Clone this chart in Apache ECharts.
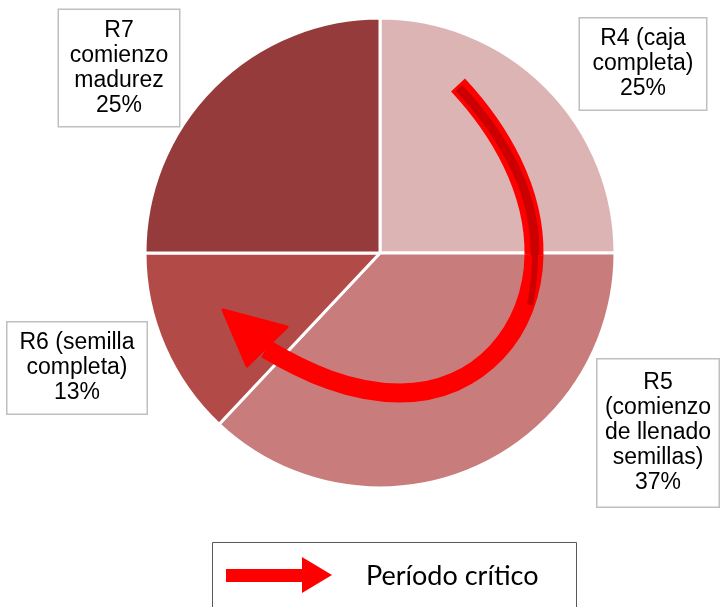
<!DOCTYPE html>
<html>
<head>
<meta charset="utf-8">
<script src="https://cdn.jsdelivr.net/npm/echarts@6/dist/echarts.min.js"></script>
<style>
  html, body { margin: 0; padding: 0; background: #fff; }
  #chart { width: 720px; height: 607px; }
</style>
</head>
<body>
<div id="chart"></div>
<script>
// etapas (en el orden del reloj, empezando arriba)
var etapas = ['R4 (caja\ncompleta)', 'R5\n(comienzo\nde llenado\nsemillas)', 'R6 (semilla\ncompleta)', 'R7\ncomienzo\nmadurez'];
var valores = [25, 37, 13, 25];
var colores = ['#DDB4B4', '#C87C7B', '#B24A48', '#953B3B'];
var leyenda = 'Período crítico';

// cajas de las etiquetas: centro x, centro y, ancho
var cajas = [
  [643, 64, 126],
  [658, 433, 121],
  [77, 368, 139],
  [119, 68, 120]
];

var chart = echarts.init(document.getElementById('chart'), null, { renderer: 'canvas' });

var datos = etapas.map(function (n, i) {
  return {
    name: n,
    value: valores[i],
    itemStyle: { color: colores[i] },
    label: { width: cajas[i][2], padding: i === 1 ? [11, 0] : [8, 0] }
  };
});

// tramos de la flecha curva
function curva(p, color, ancho, z) {
  return {
    type: 'bezierCurve', z: z,
    shape: { x1: p[0], y1: p[1], cpx1: p[2], cpy1: p[3], cpx2: p[4], cpy2: p[5], x2: p[6], y2: p[7] },
    style: { fill: null, stroke: color, lineWidth: ancho, lineCap: 'butt' }
  };
}

var option = {
  backgroundColor: '#fff',
  animation: false,
  series: [{
    type: 'pie',
    center: [380, 253],
    radius: 235,
    startAngle: 90,
    clockwise: true,
    percentPrecision: 0,
    silent: true,
    itemStyle: { borderColor: '#fff', borderWidth: 3 },
    label: {
      show: true,
      position: 'outside',
      formatter: '{b}\n{d}%',
      fontFamily: "'Liberation Sans', Arial, sans-serif",
      fontSize: 23,
      lineHeight: 25,
      color: '#000',
      align: 'center',
      backgroundColor: '#fff',
      borderColor: '#BFBFBF',
      borderWidth: 1.5
    },
    labelLine: { show: false },
    labelLayout: function (p) {
      var c = cajas[p.dataIndex];
      return { x: c[0], y: c[1], align: 'center', verticalAlign: 'middle' };
    },
    data: datos
  }],
  graphic: [
    // flecha curva (periodo critico)
    curva([458, 85, 500, 130, 535, 190, 534, 255], '#FF0000', 19, 100),
    curva([534, 255, 533, 330, 480, 393, 400, 393], '#FF0000', 19, 100),
    curva([400, 393, 350, 393, 305, 372, 266, 349], '#FF0000', 19, 100),
    curva([459, 88, 501, 133, 536, 190, 535, 255], '#CC0000', 9, 101),
    curva([535, 255, 535, 275, 533, 290, 530, 305], '#CC0000', 6, 101),
    {
      type: 'polygon', z: 102,
      shape: { points: [[223, 310], [287, 327], [247, 366]] },
      style: { fill: '#FF0000', stroke: '#FF0000', lineWidth: 3, lineJoin: 'round' }
    },
    // leyenda
    {
      type: 'rect', z: 100,
      shape: { x: 212.5, y: 542.5, width: 364, height: 80 },
      style: { fill: '#fff', stroke: '#595959', lineWidth: 1 }
    },
    {
      type: 'polygon', z: 101,
      shape: { points: [[226, 569], [302, 569], [302, 557], [332, 575], [302, 593], [302, 582], [226, 582]] },
      style: { fill: '#FF0000' }
    },
    {
      type: 'text', z: 101,
      style: {
        x: 366, y: 576, text: leyenda,
        fontFamily: 'Lato, sans-serif', fontSize: 27,
        fill: '#000', textAlign: 'left', textVerticalAlign: 'middle'
      }
    }
  ]
};

chart.setOption(option);
</script>
</body>
</html>
